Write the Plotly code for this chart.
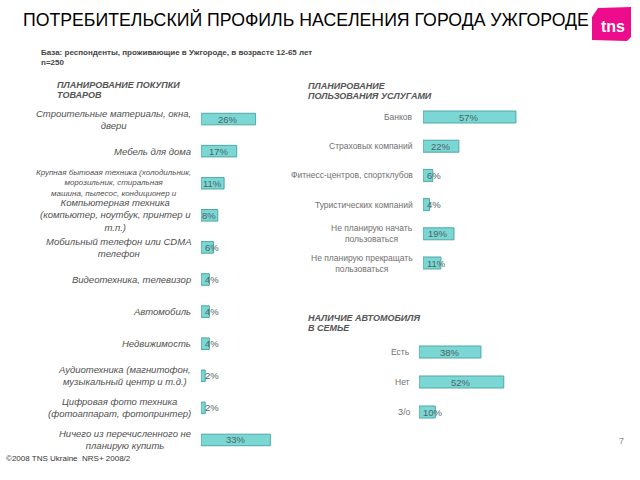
import plotly.graph_objects as go

W, H = 640, 480

# ---------------- data ----------------
goods_labels = [
    "Строительные материалы, окна,<br>двери",
    "Мебель для дома",
    "Крупная бытовая техника (холодильник,<br>морозильник, стиральная<br>машина, пылесос, кондиционер и",
    "Компьютерная техника<br>(компьютер, ноутбук, принтер и<br>т.п.)",
    "Мобильный телефон или CDMA<br>телефон",
    "Видеотехника, телевизор",
    "Автомобиль",
    "Недвижимость",
    "Аудиотехника (магнитофон,<br>музыкальный центр и т.д.)",
    "Цифровая фото техника<br>(фотоаппарат, фотопринтер)",
    "Ничего из перечисленного не<br>планирую купить",
]
goods_values = [26, 17, 11, 8, 6, 4, 4, 4, 2, 2, 33]

services_labels = [
    "Банков",
    "Страховых компаний",
    "Фитнесс-центров, спортклубов",
    "Туристических компаний",
    "Не планирую начать<br>пользоваться",
    "Не планирую прекращать<br>пользоваться",
]
services_values = [57, 22, 6, 4, 19, 11]

car_labels = ["Есть", "Нет", "З/о"]
car_values = [38, 52, 10]

title_text = "ПОТРЕБИТЕЛЬСКИЙ ПРОФИЛЬ НАСЕЛЕНИЯ ГОРОДА УЖГОРОДЕ"
base_text = "База: респонденты, проживающие в Ужгороде, в возрасте 12-65 лет"
n_text = "n=250"
goods_title = ["ПЛАНИРОВАНИЕ ПОКУПКИ", "ТОВАРОВ"]
services_title = ["ПЛАНИРОВАНИЕ", "ПОЛЬЗОВАНИЯ УСЛУГАМИ"]
car_title = ["НАЛИЧИЕ АВТОМОБИЛЯ", "В СЕМЬЕ"]
footer_text = "©2008 TNS Ukraine  NRS+ 2008/2"
page_text = "7"

# ---------------- style ----------------
FONT = "Arial, Liberation Sans, sans-serif"
BAR_FILL = "#7AD7D4"
BAR_LINE = "#4FA8A6"
VAL_COLOR = "#4f6464"


def px(x):
    return x / W


def py(y):
    return 1 - y / H


fig = go.Figure()

# panel config
panels = [
    (goods_labels, goods_values, "x", "y", 201, 2.1, 305, 103, 456, 0.36,
     dict(size=9.5, color="#505050", style="italic"), -8),
    (services_labels, services_values, "x2", "y2", 423, 1.63, 545, 102.4, 277.6, 0.41,
     dict(size=8.5, color="#707070"), -8),
    (car_labels, car_values, "x3", "y3", 419, 1.63, 545, 337, 427, 0.40,
     dict(size=8.5, color="#707070"), -7),
]

layout_axes = {}
annotations = []
for labels, values, xa, ya, x0, ppu, x1, yt, yb, bw, lstyle, lshift in panels:
    fig.add_trace(go.Bar(
        x=values, y=labels, orientation="h", xaxis=xa, yaxis=ya,
        width=bw, marker=dict(color=BAR_FILL, line=dict(color=BAR_LINE, width=1)),
        hoverinfo="skip", showlegend=False,
    ))
    n = len(labels)
    xname = "xaxis" if xa == "x" else "xaxis" + xa[1:]
    yname = "yaxis" if ya == "y" else "yaxis" + ya[1:]
    layout_axes[xname] = dict(domain=[px(x0), px(x1)], range=[0, (x1 - x0) / ppu],
                              visible=False, anchor=ya, fixedrange=True)
    layout_axes[yname] = dict(domain=[py(yb), py(yt)], type="category",
                              range=[n - 0.5, -0.5], visible=False, anchor=xa,
                              fixedrange=True)
    for lab, v in zip(labels, values):
        fstyle = dict(lstyle, size=8) if lab == goods_labels[2] else lstyle
        annotations.append(dict(
            x=0, y=lab, xref=xa, yref=ya, text=lab, showarrow=False,
            xanchor="right", yanchor="middle", align="center", xshift=lshift,
            font=dict(family=FONT, **fstyle),
        ))
        txt = f"{v}%"
        tw = len(txt) * 5.3
        if v * ppu >= tw + 3:
            ax = dict(x=v / 2, xanchor="center", xshift=0)
        else:
            ax = dict(x=0, xanchor="left", xshift=2)
        annotations.append(dict(
            y=lab, xref=xa, yref=ya, text=txt, showarrow=False, yanchor="middle",
            font=dict(family=FONT, size=9.5, color=VAL_COLOR), **ax,
        ))

# section titles (one annotation per line for tighter leading)
for lines, x, y in [(goods_title, 55, 85), (services_title, 306, 86), (car_title, 306, 318)]:
    for k, line in enumerate(lines):
        annotations.append(dict(
            x=px(x), y=py(y + 10 * k), xref="paper", yref="paper", text=line,
            showarrow=False, xanchor="left", yanchor="middle",
            font=dict(family=FONT, size=9, color="#555555", weight="bold", style="italic"),
        ))

# header texts
annotations += [
    dict(x=px(21), y=py(20), xref="paper", yref="paper", text=title_text, showarrow=False,
         xanchor="left", yanchor="middle",
         font=dict(family=FONT, size=17.7, color="#000000")),
    dict(x=px(39), y=py(52), xref="paper", yref="paper", text=base_text, showarrow=False,
         xanchor="left", yanchor="middle",
         font=dict(family=FONT, size=8, color="#444444", weight="bold")),
    dict(x=px(39), y=py(63), xref="paper", yref="paper", text=n_text, showarrow=False,
         xanchor="left", yanchor="middle",
         font=dict(family=FONT, size=8, color="#444444", weight="bold")),
    dict(x=px(4), y=py(458), xref="paper", yref="paper", text=footer_text, showarrow=False,
         xanchor="left", yanchor="middle",
         font=dict(family=FONT, size=8, color="#333333")),
    dict(x=px(621), y=py(441), xref="paper", yref="paper", text=page_text, showarrow=False,
         xanchor="center", yanchor="middle",
         font=dict(family=FONT, size=9, color="#888888")),
    dict(x=px(613), y=py(26), xref="paper", yref="paper", text="tns", showarrow=False,
         xanchor="center", yanchor="middle",
         font=dict(family=FONT, size=16, color="#ffffff", weight="bold")),
]

# tns logo shape
pts = [(598, 8), (631, 7), (631, 37), (627, 41), (592, 40), (592, 17)]
path = "M " + " L ".join(f"{px(a):.5f},{py(b):.5f}" for a, b in pts) + " Z"
shapes = [dict(type="path", path=path, xref="paper", yref="paper",
               fillcolor="#EC0C8C", line=dict(width=0), layer="below")]

fig.update_layout(
    width=W, height=H, margin=dict(l=0, r=0, t=0, b=0),
    paper_bgcolor="white", plot_bgcolor="white",
    annotations=annotations, shapes=shapes, showlegend=False,
    **layout_axes,
)

fig.write_html("out.html", config={"displayModeBar": False})
